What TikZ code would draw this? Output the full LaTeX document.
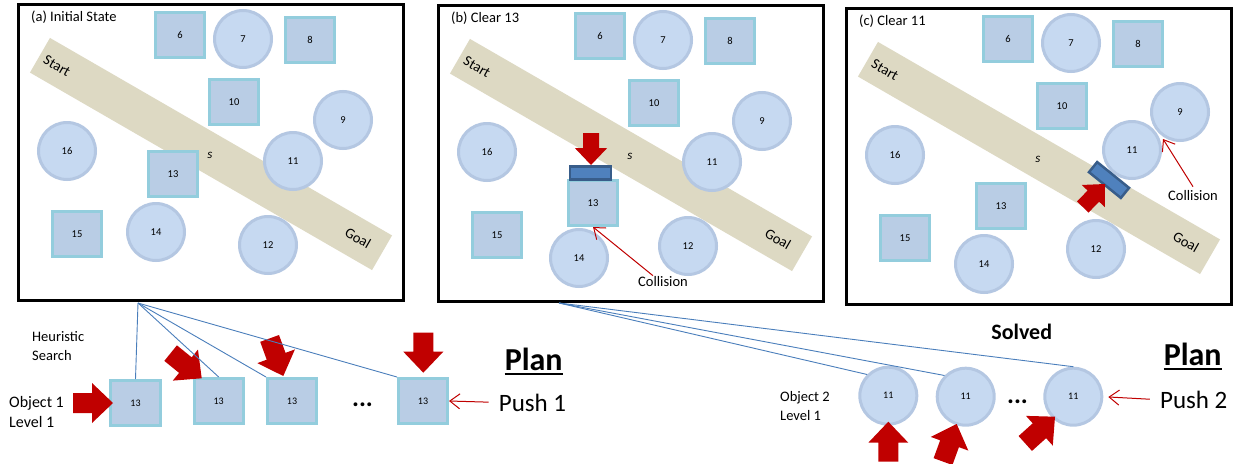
\documentclass[tikz,border=0pt]{standalone}
\usepackage{fontspec}
\setmainfont{Carlito}
\usetikzlibrary{arrows.meta}

\definecolor{boxfill}{HTML}{B9CDE5}
\definecolor{boxline}{HTML}{93CDDD}
\definecolor{ballfill}{HTML}{C6D9F1}
\definecolor{ballline}{HTML}{B4C7E2}
\definecolor{lanefill}{HTML}{DDD9C3}
\definecolor{pushfill}{HTML}{4F81BD}
\definecolor{pushline}{HTML}{385D8A}
\definecolor{pushred}{HTML}{C00000}
\definecolor{linkblue}{HTML}{4A7EBB}

\begin{document}
\begin{tikzpicture}[x=1pt, y=-1pt,
		box/.style={rectangle, draw=boxline, fill=boxfill, line width=3pt, minimum width=49pt, minimum height=45pt, inner sep=0pt, font=\fontsize{10.5}{12}\selectfont},
		ball/.style={circle, draw=ballline, fill=ballfill, line width=3pt, minimum size=57pt, inner sep=0pt, font=\fontsize{10.5}{12}\selectfont},
		pane/.style={rectangle, draw=black, fill=white, line width=3pt, minimum width=385pt, minimum height=296pt},
		pusher/.style={rectangle, draw=pushline, fill=pushfill, line width=2.5pt, minimum width=41pt, minimum height=13pt, inner sep=0pt},
		lbl/.style={font=\fontsize{14.5}{19}\selectfont, inner sep=1pt, align=left},
		big/.style={font=\fontsize{25}{30}\selectfont, inner sep=1pt},
		link/.style={linkblue, line width=0.9pt},
		hit/.style={pushred, line width=1pt, -{Straight Barb[length=10pt, width=15pt]}},
		redpush/.pic={\fill[pushred] (0,0) -- (-21,20) -- (-21,10) -- (-40,10) -- (-40,-10) -- (-21,-10) -- (-21,-20) -- cycle;}]
	\useasboundingbox (0,0) rectangle (1238,463);

	\foreach \p/\px/\py/\ttl in {a/17/3/{(a) Initial State}, b/437/4/{(b) Clear 13}, c/845/7/{(c) Clear 11}}{
		\begin{scope}[shift={(\px,\py)}]
			\node[pane] (\p) at (194,149.5) {};
			\fill[lanefill, rotate around={-30:(194,151)}] (-3.5,131) rectangle (391.5,171);
			\node[lbl, anchor=west] (title\p) at (13,14) {\ttl};
			\node[lbl, rotate=-30] (start\p) at (40,63) {Start};
			\node[lbl, rotate=-30] (goal\p) at (341,235) {Goal};
			\node[font=\itshape\fontsize{13}{13}\selectfont] (s\p) at (193,152) {s};
			\node[box] (\p6) at (163,32) {6};
			\node[ball] (\p7) at (226,36) {7};
			\node[box] (\p8) at (293,37) {8};
			\node[box] (\p10) at (217,99) {10};
			\node[ball] (\p16) at (50,148) {16};
			\node[box] (\p15) at (60,231) {15};
			\node[ball] (\p12) at (251,242) {12};
		\end{scope}
	}

	\begin{scope}[shift={(17,3)}]
		\node[ball] (a9) at (326,117) {9};
		\node[ball] (a11) at (276,158) {11};
		\node[box] (a13) at (156,171) {13};
		\node[ball] (a14) at (139,229) {14};
	\end{scope}

	\begin{scope}[shift={(437,4)}]
		\node[ball] (b9) at (325,117) {9};
		\node[ball] (b11) at (275,158) {11};
		\node[box] (b13) at (156,199) {13};
		\node[ball] (b14) at (142,254) {14};
		\node[pusher] (pushb) at (153.5,169) {};
		\pic[scale=0.8, rotate=-90] at (154,161) {redpush};
		\node[lbl] (hitb) at (226,278) {Collision};
	\end{scope}
	\draw[hit] ([xshift=-10pt]hitb.north) -- (b13.south);

	\begin{scope}[shift={(845,7)}]
		\node[ball] (c9) at (335,105) {9};
		\node[ball] (c11) at (287,143) {11};
		\node[box] (c13) at (156,199) {13};
		\node[ball] (c14) at (139,257) {14};
		\node[pusher, rotate=-39] (pushc) at (264,173) {};
		\pic[scale=0.8, rotate=46] at (260,177) {redpush};
		\node[lbl] (hitc) at (348,189) {Collision};
		\coordinate (touchc) at (318,132);
	\end{scope}
	\draw[hit] ([yshift=3pt]hitc.north) -- (touchc);

	\coordinate (roota) at (138,303);
	\node[lbl, anchor=west] (heur) at (31,346.5) {Heuristic\\Search};
	\node[lbl, anchor=west, font=\fontsize{16}{20}\selectfont] (obj1) at (8,412) {Object 1\\Level 1};
	\node[box, minimum width=50pt, font=\fontsize{10}{12}\selectfont] (p1) at (135.5,403) {13};
	\node[box, font=\fontsize{10}{12}\selectfont] (p2) at (218.7,401) {13};
	\node[box, font=\fontsize{10}{12}\selectfont] (p3) at (292,401) {13};
	\node[box, font=\fontsize{10}{12}\selectfont] (p4) at (423,401) {13};
	\node[font=\bfseries\fontsize{26}{26}\selectfont] (dots1) at (362.5,405) {...};
	\pic at (113,403) {redpush};
	\pic[rotate=-39] at (201.7,378.3) {redpush};
	\pic[rotate=-70] at (283.3,376) {redpush};
	\pic[rotate=-90] at (423.3,372.7) {redpush};
	\draw[link] (roota) -- (p1.north);
	\draw[link] (roota) -- (p2.north);
	\draw[link] (roota) -- (p3.north west);
	\draw[link] (roota) -- (p4.north west);
	\node[anchor=base, inner sep=0pt, font=\bfseries\fontsize{32}{36}\selectfont] (plan1) at (533.7,370) {Plan};
	\draw[line width=1.7pt] ([yshift=-4pt]plan1.base west) -- ([yshift=-4pt]plan1.base east);
	\node[big, anchor=base] (push1) at (532.5,411) {Push 1};
	\draw[hit, shorten <=9pt] (push1.west) -- (p4.east);

	\coordinate (rootb) at (559,303);
	\node[lbl, anchor=west, font=\fontsize{14.5}{19.5}\selectfont] (obj2) at (779,406) {Object 2\\Level 1};
	\node[ball, font=\fontsize{10}{12}\selectfont] (q1) at (888.3,395.7) {11};
	\node[ball, font=\fontsize{10}{12}\selectfont] (q2) at (965.7,396.7) {11};
	\node[ball, font=\fontsize{10}{12}\selectfont] (q3) at (1073.3,396.7) {11};
	\node[font=\bfseries\fontsize{26}{26}\selectfont] (dots2) at (1017.5,401.7) {...};
	\pic[rotate=90] at (888.3,421.7) {redpush};
	\pic[rotate=70] at (956.7,424) {redpush};
	\pic[rotate=42] at (1055,416.7) {redpush};
	\draw[link] (rootb) -- (q1.north west);
	\draw[link] (rootb) -- (q2.north west);
	\draw[link] (rootb) -- (q3.north);
	\node[anchor=base, font=\bfseries\fontsize{22}{24}\selectfont] (solved) at (1021.7,339.3) {Solved};
	\node[anchor=base, inner sep=0pt, font=\bfseries\fontsize{32}{36}\selectfont] (plan2) at (1192.7,365) {Plan};
	\draw[line width=1.7pt] ([yshift=-4pt]plan2.base west) -- ([yshift=-4pt]plan2.base east);
	\node[big, anchor=base] (push2) at (1193.7,408.3) {Push 2};
	\draw[hit, shorten <=9pt, shorten >=5pt] (push2.west) -- (q3.east);
\end{tikzpicture}
\end{document}
